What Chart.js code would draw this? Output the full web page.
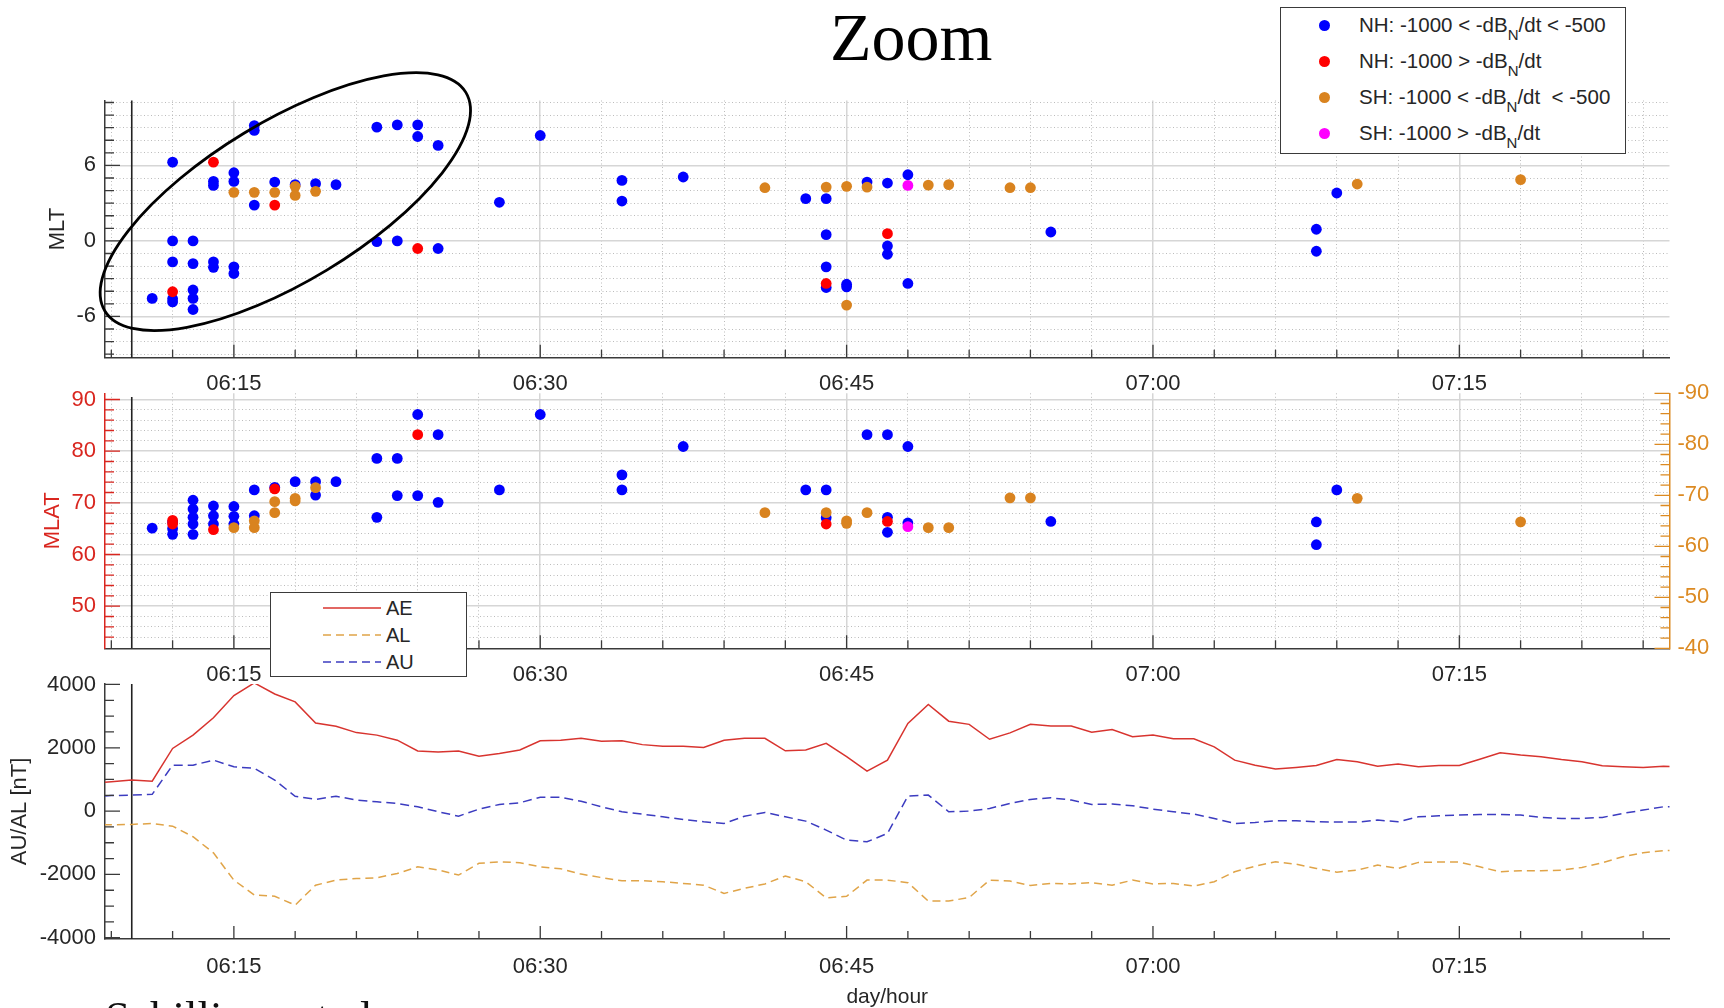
<!DOCTYPE html>
<html>
<head>
<meta charset="utf-8">
<title>Zoom</title>
<script src="https://cdn.jsdelivr.net/npm/chart.js@4.4.0/dist/chart.umd.min.js"></script>
<style>
  html, body { margin: 0; padding: 0; background: #fff; }
  #page { position: relative; width: 1724px; height: 1008px; overflow: hidden;
          font-family: 'Liberation Sans', Arial, Helvetica, sans-serif; color: #262626; }
  canvas { position: absolute; left: 0; top: 0; }
  .title { position: absolute; left: 830px; top: 3px; font: 68px/1 'Liberation Serif', 'Times New Roman', serif; color: #000; }
  .credit { position: absolute; left: 105px; top: 995px; font: 45px/1 'Liberation Serif', 'Times New Roman', serif; color: #111; white-space: nowrap; }
  .legend { position: absolute; background: #fff; border: 1px solid #3a3a3a; box-sizing: border-box; }
  .legend .row { position: absolute; left: 0; right: 0; height: 26px; line-height: 26px; white-space: nowrap; }
  .legend .dot { position: absolute; width: 11px; height: 11px; border-radius: 50%; top: 7.5px; left: 38px; }
  .legend .txt { position: absolute; top: 0; }
  #eventLegend .txt { left: 78px; font-size: 20.5px; }
  #eventLegend sub { font-size: 15px; vertical-align: -8px; line-height: 0; }
  #indexLegend .txt { left: 115px; font-size: 20px; }
  #indexLegend svg { position: absolute; left: 52px; top: 0; }
</style>
</head>
<body>
<div id="page">
  <canvas id="mltChart" width="1724" height="1008"></canvas>
  <canvas id="mlatChart" width="1724" height="1008"></canvas>
  <canvas id="indexChart" width="1724" height="1008"></canvas>

  <div class="title">Zoom</div>

  <div class="legend" id="eventLegend" style="left:1280px;top:7px;width:346px;height:147px">
    <div class="row" style="top:4px"><span class="dot" style="background:#0000ff"></span><span class="txt">NH: -1000 &lt; -dB<sub>N</sub>/dt &lt; -500</span></div>
    <div class="row" style="top:40px"><span class="dot" style="background:#ff0000"></span><span class="txt">NH: -1000 &gt; -dB<sub>N</sub>/dt</span></div>
    <div class="row" style="top:76px"><span class="dot" style="background:#d9831f"></span><span class="txt">SH: -1000 &lt; -dB<sub>N</sub>/dt &nbsp;&lt; -500</span></div>
    <div class="row" style="top:112px"><span class="dot" style="background:#ff00ff"></span><span class="txt">SH: -1000 &gt; -dB<sub>N</sub>/dt</span></div>
  </div>

  <div class="legend" id="indexLegend" style="left:270px;top:592px;width:197px;height:85px">
    <div class="row" style="top:2px">
      <svg width="58" height="26"><line x1="0" y1="13" x2="58" y2="13" stroke="#d8342f" stroke-width="1.5"/></svg>
      <span class="txt">AE</span></div>
    <div class="row" style="top:29px">
      <svg width="58" height="26"><line x1="0" y1="13" x2="58" y2="13" stroke="#e0a448" stroke-width="1.5" stroke-dasharray="8 5"/></svg>
      <span class="txt">AL</span></div>
    <div class="row" style="top:56px">
      <svg width="58" height="26"><line x1="0" y1="13" x2="58" y2="13" stroke="#3c3cc0" stroke-width="1.5" stroke-dasharray="8 5"/></svg>
      <span class="txt">AU</span></div>
  </div>

  <div class="credit">Schillings et al.</div>
</div>

<script>
// ---- time axis (minutes after 06:00) ----
const tMin = 8.69, tMax = 85.29;
const markerTime = 10;
const tickTimes = [9, 12, 15, 18, 21, 24, 27, 30, 33, 36, 39, 42, 45, 48, 51, 54, 57, 60, 63, 66, 69, 72, 75, 78, 81, 84];
const labelTimes = [15, 30, 45, 60, 75];
const labelTexts = ['06:15', '06:30', '06:45', '07:00', '07:15'];

// ---- MLT panel: [minute, MLT] ----
const mltNhModerate = [
  [11, -4.57], [12, 6.26], [12, 0], [12, -1.67], [12, -4.6], [12, -4.85],
  [13, 0], [13, -1.8], [13, -3.9], [13, -4.57], [13, -5.45],
  [14, 4.73], [14, 4.41], [14, -1.67], [14, -2.1],
  [15, 5.42], [15, 4.73], [15, -2.06], [15, -2.59],
  [16, 9.17], [16, 8.78], [16, 2.85],
  [17, 4.68], [18, 4.47], [19, 4.55], [20, 4.47],
  [22, 9.04], [22, -0.05], [23, 9.22], [23, 0], [24, 9.22], [24, 8.3],
  [25, 7.59], [25, -0.6], [28, 3.07], [30, 8.38],
  [34, 4.81], [34, 3.17], [37, 5.08],
  [43, 3.36], [44, 3.36], [44, 0.5], [44, -2.06], [44, -3.7],
  [45, -3.44], [45, -3.65], [46, 4.68], [47, 4.6], [47, -0.4], [47, -1.06],
  [48, 5.26], [48, -3.38], [55, 0.71], [68, 0.93], [68, -0.82], [69, 3.81]
];
const mltNhStrong = [[12, -4.04], [14, 6.26], [17, 2.85], [24, -0.6], [44, -3.38], [47, 0.58]];
const mltShModerate = [
  [15, 3.86], [16, 3.86], [17, 3.86], [18, 4.34], [18, 3.62], [19, 3.94],
  [41, 4.23], [44, 4.28], [45, 4.34], [45, -5.1], [46, 4.28], [49, 4.44], [50, 4.47],
  [53, 4.23], [54, 4.23], [70, 4.52], [78, 4.87]
];
const mltShStrong = [[48, 4.41]];
const mltMin = -9.28, mltMax = 11.16;
const mltTicks = [-9, -8, -7, -6, -5, -4, -3, -2, -1, 0, 1, 2, 3, 4, 5, 6, 7, 8, 9, 10, 11];
const mltLabels = [-6, 0, 6];

// ---- MLAT panel: NH on left axis, SH on right axis ----
const mlatNhModerate = [
  [11, 65.1], [12, 66.3], [12, 65.0], [12, 63.9],
  [13, 70.5], [13, 68.8], [13, 67.2], [13, 65.9], [13, 63.9],
  [14, 69.4], [14, 67.5], [14, 65.9],
  [15, 69.3], [15, 67.4], [15, 65.9],
  [16, 72.5], [16, 67.5], [17, 73.0],
  [18, 74.1], [19, 74.1], [19, 71.5], [20, 74.1],
  [22, 78.6], [22, 67.2], [23, 78.6], [23, 71.4],
  [24, 87.1], [24, 71.4], [25, 83.2], [25, 70.1],
  [28, 72.5], [30, 87.1], [34, 75.4], [34, 72.5], [37, 80.9],
  [43, 72.5], [44, 72.5], [44, 67.1],
  [46, 83.2], [47, 83.2], [47, 67.2], [47, 64.3], [48, 80.9], [48, 66.1],
  [55, 66.4], [68, 66.3], [68, 61.9], [69, 72.5]
];
const mlatNhStrong = [[12, 66.6], [12, 65.9], [14, 64.8], [17, 72.7], [24, 83.2], [44, 65.9], [47, 66.4]];
const mlatShModerate = [
  [15, -63.65], [16, -65.0], [16, -63.65], [17, -68.75], [17, -66.6], [18, -69.4], [18, -68.9], [19, -71.5],
  [41, -66.6], [44, -66.6], [45, -65.0], [45, -64.5], [46, -66.6], [49, -63.65], [50, -63.65],
  [53, -69.5], [54, -69.5], [70, -69.4], [78, -64.8]
];
const mlatShStrong = [[48, -63.85]];
const mlatMin = 41.85, mlatMax = 91.2;
const mlatTicks = [44, 46, 48, 50, 52, 54, 56, 58, 60, 62, 64, 66, 68, 70, 72, 74, 76, 78, 80, 82, 84, 86, 88, 90];
const mlatLabels = [50, 60, 70, 80, 90];
const shMin = -90, shMax = -40;
const shTicks = [-90, -88, -86, -84, -82, -80, -78, -76, -74, -72, -70, -68, -66, -64, -62, -60, -58, -56, -54, -52, -50, -48, -46, -44, -42, -40];
const shLabels = [-90, -80, -70, -60, -50, -40];

// ---- auroral electrojet indices, one value per minute ----
const minutes = [8, 9, 10, 11, 12, 13, 14, 15, 16, 17, 18, 19, 20, 21, 22, 23, 24, 25, 26, 27, 28, 29, 30,
  31, 32, 33, 34, 35, 36, 37, 38, 39, 40, 41, 42, 43, 44, 45, 46, 47, 48, 49, 50, 51, 52, 53, 54, 55, 56, 57,
  58, 59, 60, 61, 62, 63, 64, 65, 66, 67, 68, 69, 70, 71, 72, 73, 74, 75, 76, 77, 78, 79, 80, 81, 82, 83, 84, 85, 86];
const ae = [880, 930, 980, 947, 1980, 2400, 2950, 3650, 4050, 3700, 3450, 2780, 2680, 2480, 2400, 2240, 1900, 1870, 1900, 1730, 1820, 1930, 2220,
  2240, 2300, 2210, 2220, 2100, 2050, 2050, 2010, 2240, 2300, 2300, 1905, 1930, 2140, 1720, 1265, 1610, 2770, 3370, 2840, 2740, 2270, 2470, 2740, 2690, 2690, 2490,
  2580, 2350, 2400, 2285, 2285, 2030, 1610, 1450, 1330, 1380, 1440, 1630, 1560, 1420, 1485, 1400, 1440, 1440, 1640, 1840, 1770, 1720, 1630, 1560, 1430, 1400, 1380, 1420, 1380];
const au = [460, 490, 505, 530, 1450, 1450, 1610, 1400, 1350, 980, 470, 370, 470, 350, 295, 240, 137, -20, -160, 63, 210, 263, 440,
  440, 310, 137, -20, -95, -180, -263, -337, -390, -160, -42, -180, -316, -600, -916, -970, -705, 474, 505, -20, 0, 84, 242, 370, 420, 350, 210,
  221, 168, 63, -21, -95, -232, -390, -358, -305, -305, -337, -347, -347, -284, -337, -179, -147, -126, -105, -105, -126, -200, -232, -232, -200, -74, 32, 137, 150];
const al = [-440, -430, -420, -390, -475, -810, -1320, -2180, -2650, -2690, -2970, -2340, -2180, -2130, -2105, -1970, -1760, -1860, -2020, -1650, -1600, -1630, -1760,
  -1820, -1990, -2100, -2200, -2200, -2230, -2285, -2340, -2600, -2440, -2300, -2050, -2230, -2740, -2690, -2180, -2180, -2260, -2840, -2840, -2730, -2180, -2210, -2350, -2285, -2300, -2260,
  -2340, -2180, -2300, -2285, -2370, -2230, -1915, -1740, -1600, -1675, -1810, -1930, -1865, -1705, -1810, -1620, -1610, -1610, -1760, -1915, -1885, -1885, -1865, -1780, -1630, -1440, -1315, -1250, -1240];
const ntMin = -4040, ntMax = 4015;
const ntTicks = [-4000, -3500, -3000, -2500, -2000, -1500, -1000, -500, 0, 500, 1000, 1500, 2000, 2500, 3000, 3500, 4000];
const ntLabels = [-4000, -2000, 0, 2000, 4000];

// ---- colours ----
const BLUE = '#0000ff', RED = '#ff0000', ORANGE = '#d9831f', MAGENTA = '#ff00ff';
const AXIS_DARK = '#3a3a3a', TEXT_DARK = '#262626';
const MLAT_RED = '#d9261f', SH_ORANGE = '#dc8a22';

Chart.defaults.font.family = "'Liberation Sans', Arial, Helvetica, sans-serif";
Chart.defaults.font.size = 22;
Chart.defaults.color = TEXT_DARK;
Chart.defaults.animation = false;
Chart.defaults.events = [];
Chart.defaults.plugins.legend.display = false;
Chart.defaults.plugins.tooltip.enabled = false;

const PLOT_LEFT = 105;
const RIGHT_GAP = 54.5;
const PAGE_H = 1008;

// ---- helpers ----
function pts(pairs) { return pairs.map(p => ({ x: p[0], y: p[1] })); }

function fixedTicks(values, majors) {
  return scale => { scale.ticks = values.map(v => ({ value: v, major: majors.includes(v) })); };
}

function timeLabel(v) {
  const i = labelTimes.indexOf(v);
  return i < 0 ? '' : labelTexts[i];
}

const gridColor = c => (c.tick && c.tick.major ? '#d6d6d6' : '#bcbcbc');
const gridWidth = c => (c.tick && c.tick.major ? 1.5 : 1);
const gridDash = c => (c.tick && !c.tick.major ? [1, 2.5] : []);

function timeScale(withGrid, height, labelPad, title) {
  return {
    type: 'linear', position: 'bottom', min: tMin, max: tMax,
    afterBuildTicks: fixedTicks(tickTimes, labelTimes),
    afterFit: s => { s.height = height; },
    ticks: { autoSkip: false, maxRotation: 0, minRotation: 0, padding: labelPad, color: TEXT_DARK, callback: timeLabel },
    grid: { display: withGrid, drawTicks: false, color: gridColor, lineWidth: gridWidth },
    border: { display: true, color: AXIS_DARK, width: 1.5, dash: gridDash },
    title: title ? { display: true, text: title, color: TEXT_DARK, font: { size: 21, lineHeight: 1 }, padding: { top: 0, bottom: 0 } } : { display: false }
  };
}

function valueScale(o) {
  return {
    type: 'linear', position: o.position || 'left', min: o.min, max: o.max, reverse: !!o.reverse,
    afterBuildTicks: fixedTicks(o.ticks, o.labels),
    afterFit: s => { s.width = o.width; },
    ticks: { autoSkip: false, padding: o.pad || 9, color: o.color,
             callback: v => (o.labels.includes(v) ? String(v) : '') },
    grid: { display: !!o.grid, drawOnChartArea: !!o.grid, drawTicks: false, color: gridColor, lineWidth: gridWidth },
    border: { display: true, color: o.axisColor, width: 1.5, dash: gridDash },
    title: o.title ? { display: true, text: o.title, color: o.color, font: { size: 22, lineHeight: 1 }, padding: { top: o.titlePad, bottom: 0 } } : { display: false }
  };
}

function dots(pairs, color, order, axis) {
  const ds = { data: pts(pairs), backgroundColor: color, borderColor: color, pointRadius: 5.4, pointBorderWidth: 0, order: order };
  if (axis) ds.yAxisID = axis;
  return ds;
}

function markerLine(lo, hi, axis) {
  const ds = { data: [{ x: markerTime, y: lo }, { x: markerTime, y: hi }], showLine: true, borderColor: '#222',
               borderWidth: 1.6, pointRadius: 0, order: 10 };
  if (axis) ds.yAxisID = axis;
  return ds;
}

// tick marks pointing into the plot, MATLAB style
const inwardTicks = {
  id: 'inwardTicks',
  afterDatasetsDraw(chart, args, opts) {
    const ctx = chart.ctx, area = chart.chartArea;
    (opts.axes || []).forEach(ax => {
      const scale = chart.scales[ax.id];
      ctx.save();
      ctx.strokeStyle = ax.color;
      ctx.lineWidth = 1.3;
      ctx.beginPath();
      scale.ticks.forEach(t => {
        const p = scale.getPixelForValue(t.value);
        const len = t.major ? ax.major : ax.minor;
        if (ax.side === 'bottom') { ctx.moveTo(p, area.bottom); ctx.lineTo(p, area.bottom - len); }
        else if (ax.side === 'left') { ctx.moveTo(area.left, p); ctx.lineTo(area.left + len, p); }
        else { ctx.moveTo(area.right, p); ctx.lineTo(area.right - len, p); }
      });
      ctx.stroke();
      ctx.restore();
    });
  }
};

// ellipse marking the zoomed interval
const zoomRing = {
  id: 'zoomRing',
  afterDatasetsDraw(chart, args, opts) {
    if (!opts.center) return;
    const ctx = chart.ctx, x = chart.scales.x, y = chart.scales.y;
    ctx.save();
    ctx.strokeStyle = '#000';
    ctx.lineWidth = opts.width;
    ctx.beginPath();
    ctx.ellipse(x.getPixelForValue(opts.center[0]), y.getPixelForValue(opts.center[1]),
                opts.rx, opts.ry, opts.angle * Math.PI / 180, 0, Math.PI * 2);
    ctx.stroke();
    ctx.restore();
  }
};

// ---- MLT panel ----
new Chart(document.getElementById('mltChart'), {
  type: 'scatter',
  data: { datasets: [
    dots(mltShStrong, MAGENTA, 1),
    dots(mltShModerate, ORANGE, 2),
    dots(mltNhStrong, RED, 3),
    dots(mltNhModerate, BLUE, 4),
    markerLine(mltMin - 5, mltMax + 5)
  ] },
  options: {
    responsive: false,
    layout: { padding: { top: 100.5, bottom: PAGE_H - 357.7 - 40, left: 0, right: RIGHT_GAP } },
    scales: {
      x: timeScale(true, 40, 13),
      y: valueScale({ min: mltMin, max: mltMax, ticks: mltTicks, labels: mltLabels, width: PLOT_LEFT,
                      color: TEXT_DARK, axisColor: AXIS_DARK, grid: true, title: 'MLT', titlePad: 47 })
    },
    plugins: {
      inwardTicks: { axes: [
        { id: 'x', side: 'bottom', major: 13, minor: 8, color: AXIS_DARK },
        { id: 'y', side: 'left', major: 15, minor: 9, color: AXIS_DARK }
      ] },
      zoomRing: { center: [17.52, 3.12], rx: 211, ry: 80, angle: -31.2, width: 2.8 }
    }
  },
  plugins: [inwardTicks, zoomRing]
});

// ---- MLAT panel ----
new Chart(document.getElementById('mlatChart'), {
  type: 'scatter',
  data: { datasets: [
    dots(mlatShStrong, MAGENTA, 1, 'y2'),
    dots(mlatShModerate, ORANGE, 2, 'y2'),
    dots(mlatNhStrong, RED, 3, 'y'),
    dots(mlatNhModerate, BLUE, 4, 'y'),
    markerLine(mlatMin - 5, 90.5, 'y')
  ] },
  options: {
    responsive: false,
    layout: { padding: { top: 393.3, bottom: PAGE_H - 648.3 - 40, left: 0, right: 0 } },
    scales: {
      x: timeScale(true, 40, 13),
      y: valueScale({ min: mlatMin, max: mlatMax, ticks: mlatTicks, labels: mlatLabels, width: PLOT_LEFT,
                      color: MLAT_RED, axisColor: MLAT_RED, grid: true, title: 'MLAT', titlePad: 41.6 }),
      y2: valueScale({ position: 'right', min: shMin, max: shMax, reverse: true, ticks: shTicks, labels: shLabels,
                       width: RIGHT_GAP, pad: 8, color: SH_ORANGE, axisColor: SH_ORANGE, grid: false })
    },
    plugins: {
      inwardTicks: { axes: [
        { id: 'x', side: 'bottom', major: 13, minor: 8, color: AXIS_DARK },
        { id: 'y', side: 'left', major: 15, minor: 9, color: MLAT_RED },
        { id: 'y2', side: 'right', major: 15, minor: 9, color: SH_ORANGE }
      ] }
    }
  },
  plugins: [inwardTicks]
});

// ---- AE / AL / AU panel ----
function series(values, color, dash) {
  return { data: minutes.map((m, i) => ({ x: m, y: values[i] })), showLine: true, borderColor: color,
           borderWidth: 1.5, borderDash: dash, pointRadius: 0, tension: 0 };
}

new Chart(document.getElementById('indexChart'), {
  type: 'scatter',
  data: { datasets: [
    series(ae, '#d8342f', []),
    series(au, '#3c3cc0', [9, 5]),
    series(al, '#e0a448', [8, 5]),
    markerLine(ntMin - 500, ntMax + 500)
  ] },
  options: {
    responsive: false,
    layout: { padding: { top: 684, bottom: 0, left: 0, right: RIGHT_GAP } },
    scales: {
      x: timeScale(false, PAGE_H - 939, 15, 'day/hour'),
      y: valueScale({ min: ntMin, max: ntMax, ticks: ntTicks, labels: ntLabels, width: PLOT_LEFT,
                      color: TEXT_DARK, axisColor: AXIS_DARK, grid: false, title: 'AU/AL [nT]', titlePad: 9 })
    },
    plugins: {
      inwardTicks: { axes: [
        { id: 'x', side: 'bottom', major: 13, minor: 8, color: AXIS_DARK },
        { id: 'y', side: 'left', major: 15, minor: 9, color: AXIS_DARK }
      ] }
    }
  },
  plugins: [inwardTicks]
});
</script>
</body>
</html>
